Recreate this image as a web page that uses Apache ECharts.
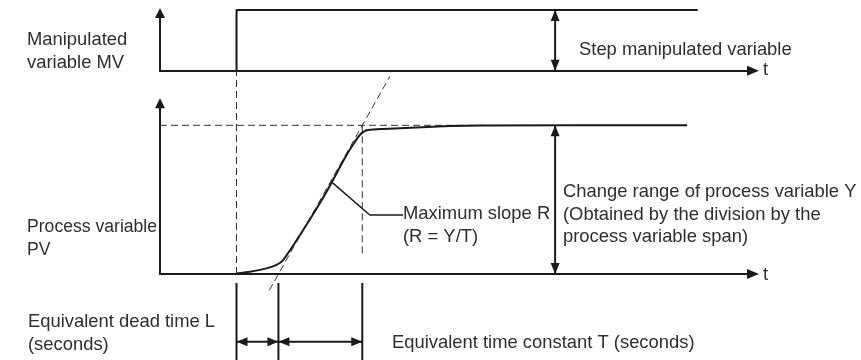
<!DOCTYPE html>
<html><head><meta charset="utf-8">
<script src="https://cdn.jsdelivr.net/npm/echarts@6/dist/echarts.min.js"></script>
<style>html,body{margin:0;padding:0;background:#fff}#c{width:861px;height:360px}</style>
</head><body><div id="c"></div>
<script>
// ---- data (time in arbitrary seconds, signals normalised) ----
const tMin = -7.3, tMax = 49.28;
const deadTimeL = 4, timeConstT = 8;
const stepEndT = 44, pvEndT = 43, spanMarkerT = 30.4;
const mvMax = 0.95, pvMax = 1.148;
const pvTime  = [0, 1.27, 2.86, 3.82, 4.45, 6.36, 8.4, 10.5, 11.29, 11.76, 12.15, 12.56, 13.99, 20.35, 23.5, 43];
const pvValue = [0.003, 0.015, 0.038, 0.061, 0.094, 0.296, 0.53, 0.80, 0.888, 0.935, 0.958, 0.968, 0.975, 0.995, 0.999, 1.0];
const tangentRange = [-0.11, 1.33];
const slopePoint = [9.06, 0.62];
const calloutBend = [12.72, 0.397];
const calloutEndT = 15.9;
const stepGuideTop = 1.37;
const tGuideBottom = 0.115;
const yLevelEndT = 23.5;
const markerTop = -0.06, markerBottom = -0.6, markerArrowY = -0.455;

const labelMV = 'Manipulated\nvariable MV';
const labelStep = 'Step manipulated variable';
const labelPV = 'Process variable\nPV';
const labelSlope = 'Maximum slope R\n(R = Y/T)';
const labelRange = 'Change range of process variable Y\n(Obtained by the division by the\nprocess variable span)';
const labelL = 'Equivalent dead time L\n(seconds)';
const labelT = 'Equivalent time constant T (seconds)';
const labelAxis = 't';

const INK = '#1a1a1a', TXT = '#2e2e2e';
const FONT = 'Liberation Sans, Arial, sans-serif';
const FS = 18.4, LH = 22.5;
const AW = 9, AH = 11; // arrow head size

const chart = echarts.init(document.getElementById('c'), null, {renderer: 'canvas'});
const axisArrow = (w, h, onZero) => ({show: true, onZero: onZero, symbol: ['none', 'triangle'], symbolSize: [w, h], lineStyle: {color: INK, width: 2}});
const xAx = (gi) => ({type: 'value', gridIndex: gi, min: tMin, max: tMax, axisLine: axisArrow(10, 12, true), axisTick: {show: false}, axisLabel: {show: false}, splitLine: {show: false}});
const yAx = (gi, max) => ({type: 'value', gridIndex: gi, min: 0, max: max, axisLine: axisArrow(10, 10, false), axisTick: {show: false}, axisLabel: {show: false}, splitLine: {show: false}});

const dash = {color: '#333', width: 1, type: [7, 4]};
const solid = (w) => ({color: INK, width: w, type: 'solid'});
const line = (gi, data, ls, z) => ({type: 'line', xAxisIndex: gi, yAxisIndex: gi, data: data, symbol: 'none', clip: false, silent: true, animation: false, lineStyle: ls, z: z || 2});

// double-headed arrow between two points (vertical or horizontal)
const ARROW_DIR = {up: [0, [0, AH / 2]], down: [180, [0, -AH / 2]], left: [90, [AH / 2, 0]], right: [-90, [-AH / 2, 0]]};
const headPt = (p, dir) => ({value: p, symbol: 'triangle', symbolSize: [AW, AH], symbolRotate: ARROW_DIR[dir][0], symbolOffset: ARROW_DIR[dir][1]});
const dblArrow = (gi, a, b) => {
  const vertical = a[0] === b[0];
  const d1 = vertical ? (a[1] < b[1] ? 'down' : 'up') : (a[0] < b[0] ? 'left' : 'right');
  const d2 = vertical ? (a[1] < b[1] ? 'up' : 'down') : (a[0] < b[0] ? 'right' : 'left');
  return {type: 'line', xAxisIndex: gi, yAxisIndex: gi, clip: false, silent: true, animation: false, showSymbol: true,
    itemStyle: {color: INK}, lineStyle: solid(2), z: 3,
    data: [headPt(a, d1), headPt(b, d2)]};
};

const pvData = pvTime.map((t, i) => [t, pvValue[i]]);
const tanAt = (y) => [deadTimeL + timeConstT * y, y];
const TE = deadTimeL + timeConstT;

const txt = (x, y, s, fs) => ({type: 'text', left: x, top: y, z: 10, style: {text: s, font: (fs || FS) + 'px ' + FONT, fill: TXT, lineHeight: LH}});

chart.setOption({
  animation: false,
  grid: [
    {left: 160, top: 13, width: 593, height: 57.7},
    {left: 160, top: 103.3, width: 593, height: 170.7}
  ],
  xAxis: [xAx(0), xAx(1)],
  yAxis: [yAx(0, mvMax), yAx(1, pvMax)],
  series: [
    // MV step
    line(0, [[0, 0], [0, 1], [stepEndT, 1]], solid(2), 3),
    dblArrow(0, [spanMarkerT, 0], [spanMarkerT, 1]),
    // PV guides
    line(1, [[0, 0], [0, stepGuideTop]], dash),
    line(1, [[tMin, 1], [yLevelEndT, 1]], dash),
    line(1, [[TE, 1], [TE, tGuideBottom]], dash),
    line(1, [tanAt(tangentRange[0]), tanAt(tangentRange[1])], dash),
    // PV curve
    Object.assign(line(1, pvData, solid(2), 4), {smooth: 0.3}),
    // callout
    line(1, [slopePoint, calloutBend, [calloutEndT, calloutBend[1]]], solid(1.5), 3),
    // Y span arrow
    dblArrow(1, [spanMarkerT, 0], [spanMarkerT, 1]),
    // L / T markers
    line(1, [[0, markerTop], [0, markerBottom]], solid(2)),
    line(1, [[deadTimeL, markerTop], [deadTimeL, markerBottom]], solid(2)),
    line(1, [[TE, markerTop], [TE, markerBottom]], solid(2)),
    dblArrow(1, [0, markerArrowY], [deadTimeL, markerArrowY]),
    dblArrow(1, [deadTimeL, markerArrowY], [TE, markerArrowY])
  ],
  graphic: [
    txt(27, 29, labelMV),
    txt(579, 39, labelStep),
    txt(763, 59, labelAxis),
    txt(27, 216, labelPV, 17.6),
    txt(403, 203, labelSlope),
    txt(563, 181, labelRange),
    txt(763, 264, labelAxis),
    txt(28, 311, labelL),
    txt(392, 332, labelT)
  ]
});
</script></body></html>
